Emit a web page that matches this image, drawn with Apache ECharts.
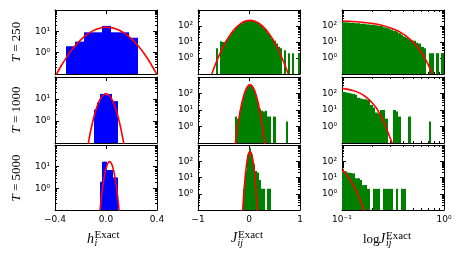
<!DOCTYPE html>
<html><head><meta charset="utf-8">
<script src="https://cdn.jsdelivr.net/npm/echarts@6/dist/echarts.min.js"></script>
<style>html,body{margin:0;padding:0;background:#fff}#c{width:463px;height:265px}</style>
</head><body><div id="c"></div>
<script>
// ---------- data ----------
const rowNames = ['250', '1000', '5000'];

// column 1: h_i histograms
const hEdges250 = [-0.316, -0.245, -0.174, -0.102, -0.031, 0.040, 0.111, 0.182, 0.253];
const hCounts250 = [2, 3.3, 9, 9, 18, 9, 9, 5];
const hEdges1000 = [-0.092, -0.0685, -0.045, -0.0215, 0.002, 0.0255, 0.049, 0.0725, 0.096];
const hCounts1000 = [3.3, 7, 17, 17, 15, 17, 8, 8];
const hEdges5000 = [-0.047, -0.034, -0.0145, 0.005, 0.031, 0.057, 0.077, 0.097];
const hCounts5000 = [2, 17, 17, 7, 7, 3.2, 3.2];

// column 2: J_ij histograms
const jEdges250 = [-0.64,-0.60,-0.56,-0.52,-0.48,-0.44,-0.40,-0.36,-0.32,-0.28,-0.24,-0.20,-0.16,-0.12,-0.08,-0.04,0.00,0.04,0.08,0.12,0.16,0.20,0.24,0.28,0.32,0.36,0.40,0.44,0.48,0.52,0.56,0.60,0.64,0.68,0.72,0.76,0.80,0.84,0.88,0.92,0.96,1.00];
const jCounts250 = [4,0,11,10,12,17,24,40,52,78,100,132,150,190,200,225,220,215,210,180,160,125,105,72,58,36,27,16,12,8,5,4,0,3,0,2,0,2,0,0,2];
const jEdges1000 = [-0.28,-0.24,-0.20,-0.16,-0.12,-0.08,-0.04,0.00,0.04,0.08,0.12,0.16,0.20,0.24,0.28,0.32,0.36,0.40,0.44,0.48,0.52,0.56,0.60,0.64,0.68,0.72,0.76];
const jCounts1000 = [4,3,8,28,85,180,290,330,280,170,80,30,12,9,8,9,4,4,0,4,0,0,0,0,0,2];
const jEdges5000 = [-0.12,-0.08,-0.04,0.00,0.04,0.08,0.12,0.16,0.20,0.24,0.28,0.32,0.36,0.40,0.44];
const jCounts5000 = [2,25,250,630,250,70,25,20,7,2,2,0,2,2];

// column 3: |J_ij| histograms on log bins
const logEdges = [0.1,0.1059,0.1122,0.1189,0.1259,0.1334,0.1413,0.1496,0.1585,0.1679,0.1778,0.1884,0.1995,0.2113,0.2239,0.2371,0.2512,0.2661,0.2818,0.2985,0.3162,0.3350,0.3548,0.3758,0.3981,0.4217,0.4467,0.4732,0.5012,0.5309,0.5623,0.5957,0.6310,0.6683,0.7079,0.7499,0.7943,0.8414,0.8913,0.9441,1.0];
const logCounts250 = [170,170,165,160,160,150,150,140,140,130,125,120,120,110,100,100,85,80,70,60,50,45,36,28,22,18,15,13,12,9,8,5,4,0,2,2,0,2,0,2];
const logCounts1000 = [125,120,110,100,95,85,55,50,45,45,40,20,14,7,6,10,10,3,0,0,10,8,4,0,0,0,4,0,0,0,0,0,0,0,2,0,0,0,0,0];
const logCounts5000 = [25,24,20,19,18,9,9,7,3.4,3.4,2,0,2,2,2,0,2,2,2,2,0,2,0,2,2,0,0,0,0,0,0,0,0,0,0,0,0,0,0,0];

// red fitted curves
const hFitX250 = [-0.39,-0.35,-0.30,-0.25,-0.20,-0.15,-0.10,-0.05,0.00,0.05,0.10,0.15,0.20,0.25,0.30,0.35,0.40];
const hFitY250 = [0.093,0.25,0.73,1.83,3.9,7.0,10.8,14.0,15.5,14.5,11.5,7.8,4.4,2.16,0.89,0.31,0.093];
const hFitX1000 = [-0.14,-0.12,-0.10,-0.08,-0.06,-0.04,-0.02,0,0.02,0.04,0.06,0.08,0.10,0.12,0.14];
const hFitY1000 = [0.089,0.36,1.17,3.1,6.6,11.3,15.6,17.4,15.6,11.3,6.6,3.1,1.17,0.36,0.089];
const hFitX5000 = [-0.047,-0.035,-0.02,-0.005,0.01,0.028,0.045,0.06,0.075,0.09,0.104];
const hFitY5000 = [0.095,0.44,2.0,6.2,12.6,17,13,6.6,2.2,0.49,0.083];
const jFitX250 = [-0.73,-0.65,-0.55,-0.45,-0.35,-0.25,-0.15,-0.05,0.02,0.10,0.20,0.30,0.40,0.50,0.60,0.70,0.77];
const jFitY250 = [0.1,0.47,2.6,10.8,34,82,151,209,224,205,144,76,31,9.5,2.2,0.39,0.1];
const jFitX1000 = [-0.27,-0.22,-0.17,-0.12,-0.07,-0.02,0.02,0.06,0.11,0.16,0.21,0.26,0.31];
const jFitY1000 = [0.087,1.16,9.6,48,150,283,331,283,150,48,9.6,1.16,0.087];
const jFitX5000 = [-0.125,-0.10,-0.075,-0.05,-0.025,0,0.02,0.04,0.065,0.09,0.115,0.14,0.165];
const jFitY5000 = [0.089,1.24,10.7,56,177,339,398,339,177,56,10.7,1.24,0.089];
const logFitX250 = [0.10,0.15,0.20,0.25,0.30,0.35,0.40,0.45,0.50,0.55,0.60,0.65,0.70,0.77];
const logFitY250 = [205,177,144,108,76,50,31,17.7,9.5,4.7,2.2,0.96,0.39,0.1];
const logFitX1000 = [0.10,0.125,0.15,0.176,0.20,0.22,0.238,0.26,0.28,0.30,0.31];
const logFitY1000 = [204,158,105,54,25,12,4.9,1.6,0.5,0.17,0.1];
const logFitX5000 = [0.10,0.11,0.12,0.13,0.14,0.15,0.16,0.165];
const logFitY5000 = [31,15.5,7.2,3.1,1.24,0.46,0.15,0.089];

// ---------- layout ----------
const colLeft = [55, 198, 342];
const colWidth = 102;
const rowTop = [10, 77, 145];
const rowHeight = [64, 66, 65];
const histColor = ['#0000ff', '#008000', '#008000'];
const yMin = 0.1;
const yMaxByCol = [100, 1000, 1000];

const panels = [
  [[hEdges250, hCounts250, hFitX250, hFitY250], [jEdges250, jCounts250, jFitX250, jFitY250], [logEdges, logCounts250, logFitX250, logFitY250]],
  [[hEdges1000, hCounts1000, hFitX1000, hFitY1000], [jEdges1000, jCounts1000, jFitX1000, jFitY1000], [logEdges, logCounts1000, logFitX1000, logFitY1000]],
  [[hEdges5000, hCounts5000, hFitX5000, hFitY5000], [jEdges5000, jCounts5000, jFitX5000, jFitY5000], [logEdges, logCounts5000, logFitX5000, logFitY5000]]
];

const SUP = {'-':'⁻','0':'⁰','1':'¹','2':'²','3':'³','4':'⁴','5':'⁵','6':'⁶','7':'⁷','8':'⁸','9':'⁹'};
function pow10(v) {
  const e = Math.round(Math.log10(v));
  return '10' + String(e).split('').map(ch => SUP[ch]).join('');
}
const tickFont = {fontFamily: 'DejaVu Sans', fontSize: 9, color: '#000'};
const black = {color: '#000', width: 1};

const grids = [], xAxes = [], yAxes = [], series = [];
for (let r = 0; r < 3; r++) {
  for (let c = 0; c < 3; c++) {
    const gi = r * 3 + c;
    grids.push({left: colLeft[c], top: rowTop[r], width: colWidth, height: rowHeight[r], containLabel: false, outerBoundsMode: 'none'});
    ['bottom', 'top'].forEach(pos => {
      let base;
      if (c === 0) base = {type: 'value', min: -0.4, max: 0.4, interval: 0.4};
      else if (c === 1) base = {type: 'value', min: -1, max: 1, interval: 1};
      else base = {type: 'log', logBase: 10, min: 0.1, max: 1};
      xAxes.push(Object.assign(base, {
        gridIndex: gi, position: pos,
        axisLine: {show: true, onZero: false, lineStyle: black},
        axisTick: {show: true, inside: true, length: 4, lineStyle: black},
        minorTick: {show: c === 2, splitNumber: 9, length: 2, lineStyle: black},
        splitLine: {show: false}, minorSplitLine: {show: false},
        axisLabel: Object.assign({
          show: pos === 'bottom' && r === 2, margin: 5, showMinLabel: true, showMaxLabel: true,
          formatter: v => {
            if (c === 0) return Math.abs(v) < 1e-9 ? '0.0' : (v < 0 ? '−' : '') + Math.abs(v).toFixed(1);
            if (c === 1) return v < 0 ? '−' + Math.abs(v) : String(v);
            return pow10(v);
          }
        }, tickFont)
      }));
    });
    ['left', 'right'].forEach(pos => {
      yAxes.push({
        type: 'log', logBase: 10, min: yMin, max: yMaxByCol[c], gridIndex: gi, position: pos,
        axisLine: {show: true, onZero: false, lineStyle: black},
        axisTick: {show: true, inside: true, length: 4, lineStyle: black},
        minorTick: {show: true, splitNumber: 9, length: 2, lineStyle: black},
        splitLine: {show: false}, minorSplitLine: {show: false},
        axisLabel: Object.assign({
          show: pos === 'left', margin: 5, showMinLabel: true, showMaxLabel: true,
          formatter: v => {
            const e = Math.round(Math.log10(v));
            const ok = c === 0 ? (e === 0 || e === 1) : (e >= 0 && e <= 2);
            return ok ? pow10(v) : '';
          }
        }, tickFont)
      });
    });
    const [edges, counts, fx, fy] = panels[r][c];
    const bars = [];
    for (let k = 0; k < counts.length; k++) if (counts[k] > 0) bars.push([edges[k], edges[k + 1], counts[k]]);
    const color = histColor[c];
    series.push({
      type: 'custom', xAxisIndex: 2 * gi, yAxisIndex: 2 * gi, data: bars, silent: true, z: 2,
      encode: {x: [0, 1], y: 2},
      renderItem: (params, api) => {
        const a = api.coord([api.value(0), api.value(2)]);
        const b = api.coord([api.value(1), yMin]);
        const x0 = Math.round(a[0]), x1 = Math.max(Math.round(b[0]), x0 + 1);
        return {type: 'rect', shape: {x: x0, y: a[1], width: x1 - x0, height: b[1] - a[1]},
          style: {fill: color}};
      }
    });
    series.push({
      type: 'line', xAxisIndex: 2 * gi, yAxisIndex: 2 * gi, z: 3, silent: true,
      data: fx.map((x, i) => [x, fy[i]]), smooth: 0.3, showSymbol: false, clip: true,
      lineStyle: {color: '#ff0000', width: 1.6}
    });
  }
}

const serif = 'Liberation Serif';
const graphics = [];
const rowCenters = [42, 110, 178];
rowNames.forEach((n, r) => {
  graphics.push({
    type: 'text', x: 17, y: rowCenters[r], rotation: Math.PI / 2,
    style: {
      text: '{i|T}{n| = ' + n + '}', align: 'center', verticalAlign: 'middle',
      rich: {i: {fontFamily: serif, fontStyle: 'italic', fontSize: 13, fill: '#000'}, n: {fontFamily: serif, fontSize: 13, fill: '#000'}}
    }
  });
});
function t(x, y, text, size, italic) {
  graphics.push({type: 'text', x, y, style: {text, fontFamily: serif, fontSize: size, fontStyle: italic ? 'italic' : 'normal', fill: '#000', align: 'left', verticalAlign: 'middle'}});
}
t(87, 239.4, 'h', 14, true); t(94.5, 235.4, 'Exact', 11, false); t(94.5, 243.2, 'i', 10, true);
t(231, 238.7, 'J', 14, true); t(238, 235.4, 'Exact', 11, false); t(237.5, 243.2, 'ij', 10, true);
t(363, 239.2, 'log', 13, false); t(379, 238.9, 'J', 14, true); t(386, 236.2, 'Exact', 11, false); t(386, 243.7, 'ij', 10, true);

const chart = echarts.init(document.getElementById('c'), null, {renderer: 'canvas'});
chart.setOption({
  animation: false, backgroundColor: '#fff',
  grid: grids, xAxis: xAxes, yAxis: yAxes, series, graphic: graphics
});
</script></body></html>
